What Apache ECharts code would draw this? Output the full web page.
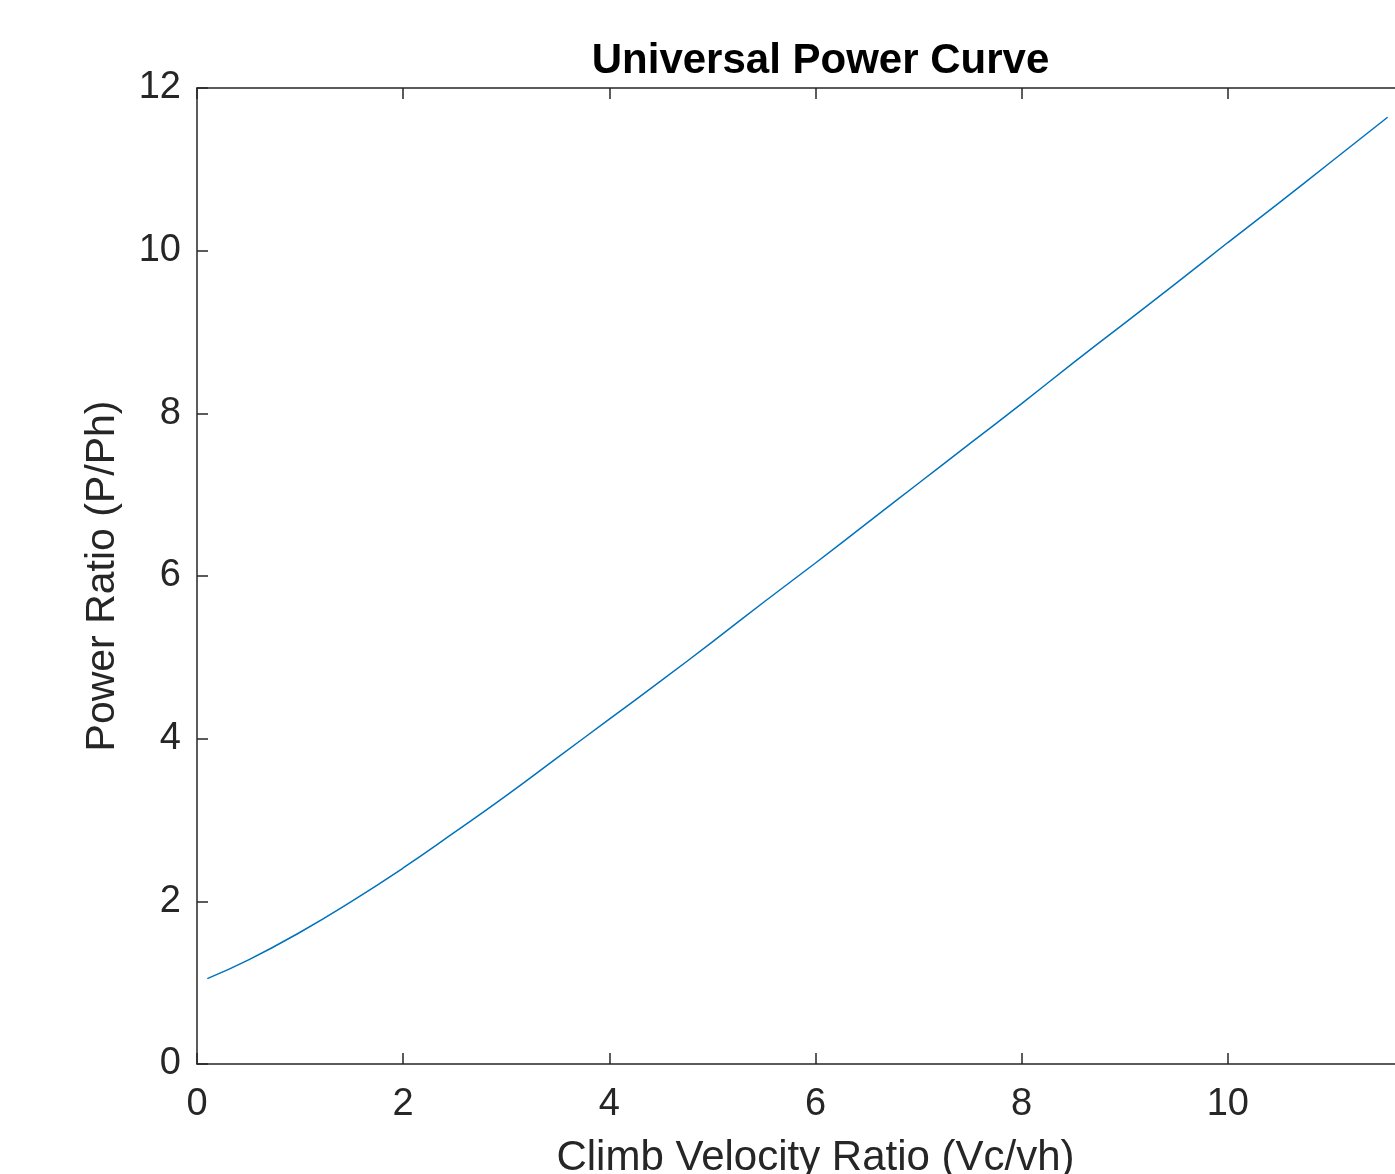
<!DOCTYPE html>
<html>
<head>
<meta charset="utf-8">
<script src="https://cdn.jsdelivr.net/npm/echarts@6/dist/echarts.min.js"></script>
<style>html,body{margin:0;padding:0;background:#fff;}#c{width:1395px;height:1174px;}</style>
</head>
<body>
<div id="c"></div>
<script>
const titleText = "Universal Power Curve";
const xLabel = "Climb Velocity Ratio (Vc/vh)";
const yLabel = "Power Ratio (P/Ph)";
const climbRatio = [0.1, 0.5, 1, 1.5, 2, 2.5, 3, 3.5, 4, 4.5, 5, 5.5, 6, 6.5, 7, 7.5, 8, 8.5, 9, 9.5, 10, 10.5, 11, 11.55];
const powerRatio = [1.05, 1.28, 1.62, 2.0, 2.41, 2.85, 3.30, 3.77, 4.24, 4.71, 5.19, 5.68, 6.16, 6.65, 7.14, 7.63, 8.12, 8.62, 9.11, 9.60, 10.10, 10.59, 11.09, 11.64];
const xTicks = [0, 2, 4, 6, 8, 10, 12];
const yTicks = [0, 2, 4, 6, 8, 10, 12];

const axisColor = '#262626';
const font = 'Liberation Sans, Arial, Helvetica, sans-serif';
const chart = echarts.init(document.getElementById('c'), null, {renderer: 'canvas'});
chart.setOption({
  animation: false,
  backgroundColor: '#ffffff',
  title: {
    text: titleText, left: 815.5, top: 35, textAlign: 'center',
    textStyle: {fontFamily: font, fontWeight: 'bold', fontSize: 42, color: '#000'}
  },
  grid: {left: 197, top: 88, right: -39, bottom: 110, containLabel: false, outerBoundsMode: 'none'},
  xAxis: [{
    type: 'value', min: xTicks[0], max: xTicks[xTicks.length-1], interval: 2,
    name: xLabel, nameLocation: 'middle', nameGap: 73, nameMoveOverlap: false,
    nameTextStyle: {fontFamily: font, fontSize: 42, color: axisColor},
    axisLine: {show: true, onZero: false, lineStyle: {color: axisColor, width: 1.5}},
    axisTick: {show: true, inside: true, length: 11, lineStyle: {color: axisColor, width: 1.5}},
    axisLabel: {fontFamily: font, fontSize: 38, color: axisColor, margin: 22},
    splitLine: {show: false}
  }, {
    type: 'value', position: 'top', min: xTicks[0], max: xTicks[xTicks.length-1], interval: 2,
    axisLine: {show: true, onZero: false, lineStyle: {color: axisColor, width: 1.5}},
    axisTick: {show: true, inside: true, length: 11, lineStyle: {color: axisColor, width: 1.5}},
    axisLabel: {show: false}, splitLine: {show: false}
  }],
  yAxis: [{
    type: 'value', min: yTicks[0], max: yTicks[yTicks.length-1], interval: 2,
    name: yLabel, nameLocation: 'middle', nameGap: 74, nameRotate: 90, nameMoveOverlap: false,
    nameTextStyle: {fontFamily: font, fontSize: 41, color: axisColor},
    axisLine: {show: true, onZero: false, lineStyle: {color: axisColor, width: 1.5}},
    axisTick: {show: true, inside: true, length: 11, lineStyle: {color: axisColor, width: 1.5}},
    axisLabel: {fontFamily: font, fontSize: 38, color: axisColor, margin: 16},
    splitLine: {show: false}
  }],
  series: [{
    type: 'line', xAxisIndex: 0, yAxisIndex: 0,
    data: climbRatio.map((v, i) => [v, powerRatio[i]]),
    smooth: true, showSymbol: false,
    lineStyle: {color: '#0072BD', width: 1.5}
  }]
});
</script>
</body>
</html>
